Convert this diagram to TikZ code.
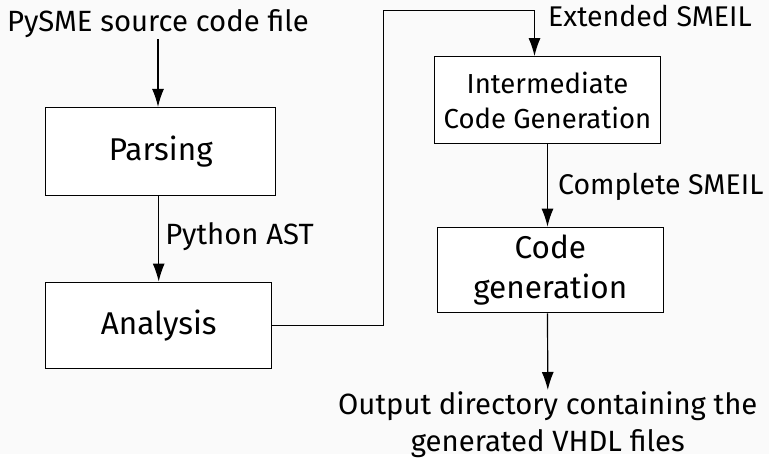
\documentclass[tikz,border=0pt]{standalone}
\usepackage{fontspec}
\setmainfont{Fira Sans}
\usetikzlibrary{arrows.meta}
\definecolor{paper}{RGB}{250,250,250}
\tikzset{
  >={Latex[length=18pt,width=12pt]},
  {stage/.style} ={draw, fill=white, line width=1.2pt, align=center, inner sep=0},
  {big stage/.style} ={stage, font=\fontsize{31.5}{40}\selectfont},
  {small stage/.style} ={stage, font=\fontsize{27.5}{35}\selectfont},
  {tag/.style} ={font=\fontsize{29.3}{37}\selectfont, align=center, inner sep=1pt},
  {small tag/.style} ={tag, font=\fontsize{28.5}{37}\selectfont},
  {flow/.style} ={line width=1.2pt, ->},
}

\begin{document}
\begin{tikzpicture}[x=1pt,y=-1pt]
\fill[paper] (0,0) rectangle (769,454);
\node[tag, anchor=base] (src) at (158,31.7) {PySME source code file};
\node[big stage, minimum width=230pt, minimum height=88pt] (parse) at (160.7,151.5) {Parsing};
\node[big stage, minimum width=226pt, minimum height=86pt] (analysis) at (158.7,325.2) {Analysis};
\node[small stage, minimum width=226pt, minimum height=86.6pt] (icg) at (547.5,100) {Intermediate\\Code Generation};
\node[big stage, minimum width=226pt, minimum height=85.5pt] (codegen) at (550.3,270) {Code\\generation};
\node[small tag, anchor=base west] (ext) at (547,26.7) {Extended SMEIL};
\node[tag, anchor=north] (out) at (547.8,390) {Output directory containing the\\generated VHDL files};
\coordinate (turn) at (383.3,10.7);
\path[flow]
        (src.south) edge (src.south |- parse.north)
        (analysis.north |- parse.south) edge node[tag, right=5pt, yshift=2pt] {Python AST} (analysis.north)
        (icg.south) edge node[small tag, right=9pt, yshift=-2pt] {Complete SMEIL} (icg.south |- codegen.north)
        (icg.south |- codegen.south) edge (out.north)
        ;
\draw[flow] (analysis.east) -| (turn) -| ([xshift=-13pt]icg.north);
\end{tikzpicture}
\end{document}
